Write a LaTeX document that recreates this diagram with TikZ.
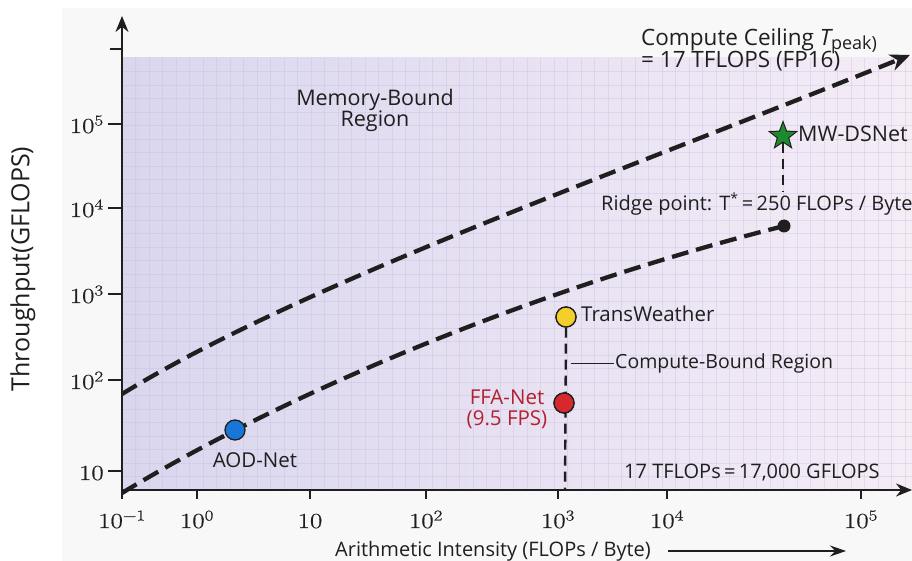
\documentclass[tikz,border=0pt]{standalone}
\usepackage{fontspec}
\setmainfont{Open Sans}
\newfontfamily\lmrm{Latin Modern Roman}[FakeBold=0.6]
\usetikzlibrary{shapes.geometric,arrows.meta}
\definecolor{ink}{HTML}{1F1F1F}
\definecolor{panel}{HTML}{F8F8F8}
\definecolor{lavL}{HTML}{D9D6EE}
\definecolor{lavR}{HTML}{F5ECF6}
\definecolor{gridc}{HTML}{C4BCDC}
\definecolor{ffared}{HTML}{B3202E}
\definecolor{dotblue}{HTML}{1877D6}
\definecolor{dotyellow}{HTML}{F4CF2A}
\definecolor{dotred}{HTML}{D8282E}
\definecolor{stargreen}{HTML}{1E8A2E}
\newcommand{\tk}[1]{10\textsuperscript{#1}}
\tikzset{
  axisline/.style={draw=ink, line width=2.2pt},
  tickline/.style={draw=ink, line width=1.8pt},
  roof/.style={draw=ink, line width=4.3pt, dash pattern=on 17pt off 8pt},
  vdash/.style={draw=ink, line width=2.4pt, dash pattern=on 10pt off 6pt},
  ticklab/.style={font=\lmrm\fontsize{21.5}{24}\selectfont, text=ink, inner sep=0pt, xscale=1.25},
  lab/.style={font=\fontsize{20.5}{24}\selectfont, text=ink, inner sep=1pt},
  biglab/.style={font=\fontsize{22.5}{26}\selectfont, text=ink, inner sep=1pt},
  dot/.style={circle, draw=ink, line width=1.3pt, minimum size=20pt, inner sep=0pt},
}
\begin{document}
\begin{tikzpicture}[x=1pt,y=-1pt]
\useasboundingbox (0,0) rectangle (912,561);
\fill[white] (0,0) rectangle (912,561);
\fill[panel] (62,8) rectangle (912,561);
% plot area
\shade[left color=lavL, right color=lavR] (122,58) rectangle (912,490);
\foreach \i in {1,...,58} \draw[gridc, line width=0.5pt, opacity=0.35] ({122+13.5*\i},58) -- ({122+13.5*\i},490);
\foreach \j in {1,...,31} \draw[gridc, line width=0.5pt, opacity=0.35] (122,{490-13.5*\j}) -- (912,{490-13.5*\j});
% axes
\coordinate (o) at (122,490);
\coordinate (ytop) at (122,16);
\coordinate (xend) at (912,490);
\draw[axisline, -{Stealth[length=16pt,width=13pt]}] (122,496) -- (ytop);
\draw[axisline, -{Stealth[length=16pt,width=13pt]}] (o) -- (xend);
% y ticks
\foreach \yy/\tl in {124/\tk{5},208/\tk{4},294/\tk{3},380/\tk{2},471/10} {
  \draw[tickline] (108,\yy) -- (122,\yy);
  \node[ticklab, anchor=base east] at (104,\yy+9) {\tl};
}
\draw[tickline] (110,49) -- (122,49);
% x ticks
\foreach \xx/\tl in {122/\tk{−1},197/\tk{0},310/10,426/\tk{2},558/\tk{3},667/\tk{4},861/\tk{5}} {
  \draw[tickline] (\xx,490) -- (\xx,499);
  \node[ticklab, anchor=base] at (\xx,528) {\tl};
}
% axis labels
\node[lab, font=\fontsize{20}{24}\selectfont] (xlab) at (493,551) {Arithmetic Intensity (FLOPs / Byte)};
\coordinate (xa1) at (668,551);
\coordinate (xa2) at (846,551);
\draw[ink, line width=1.6pt, -{Stealth[length=16pt,width=11pt]}] (xa1) -- (xa2);
\node[lab, font=\fontsize{25}{28}\selectfont, rotate=90] (ylab) at (23,269) {Throughput(GFLOPS)};
% roofline curves
\coordinate (u0) at (122,394);
\coordinate (u1) at (910,55);
\draw[roof, -{Stealth[length=20pt,width=17pt]}] (u0) .. controls (300,285) and (600,180) .. (u1);
\coordinate (l0) at (122,493);
\coordinate (ridge) at (784,226);
\draw[roof] (l0) .. controls (300,385) and (550,285) .. (ridge);
% vertical dashed lines
\node[dot, fill=dotyellow] (tw) at (566,317) {};
\node[dot, fill=dotred] (ffa) at (564,403) {};
\coordinate (twbase) at (565,490);
\draw[vdash] (tw.south) -- (twbase);
\node[dot, fill=dotyellow] at (566,317) {};
\node[dot, fill=dotred] at (564,403) {};
\node[star, star points=5, star point ratio=2.4, fill=stargreen, draw=ink, line width=1pt, minimum size=29pt, inner sep=0pt] (mw) at (783,136) {};
\coordinate (mwfoot) at (783,192);
\draw[vdash] (mw.south) -- (mwfoot);
\node[circle, fill=ink, minimum size=13pt, inner sep=0pt] (rdot) at (ridge) {};
\node[dot, fill=dotblue] (aod) at (235,430) {};
% labels
\node[biglab, anchor=west, align=left] (ceil) at (640,50) {Compute Ceiling {\itshape T}\raisebox{-0.35ex}{\fontsize{18}{20}\selectfont peak)}\\[-4pt]= 17 TFLOPS (FP16)};
\node[biglab, font=\fontsize{21.5}{25}\selectfont, align=center] (mem) at (375,110) {Memory-Bound\\[-4pt]Region};
\node[lab, font=\fontsize{21.5}{25}\selectfont, anchor=west] (mwl) at (797,134) {MW-DSNet};
\node[lab, anchor=west, font=\fontsize{20}{22}\selectfont] (ridgel) at (600,204) {Ridge point: T\textsuperscript{*}\,=\,250 FLOPs / Byte};
\node[lab, anchor=west] (twl) at (580,314) {TransWeather};
\coordinate (cb1) at (571,363);
\node[lab, anchor=west, font=\fontsize{19.5}{22}\selectfont] (cbl) at (614,363) {Compute-Bound Region};
\draw[ink, line width=1pt] (cb1) -- (cbl.west);
\node[lab, text=ffared, align=center] (ffal) at (507,409) {FFA-Net\\[-3pt](9.5 FPS)};
\node[lab] (aodl) at (255,460) {AOD-Net};
\node[lab, anchor=west, font=\fontsize{20}{22}\selectfont] (eq) at (623,473) {17 TFLOPs\,=\,17,000 GFLOPS};
\end{tikzpicture}
\end{document}
